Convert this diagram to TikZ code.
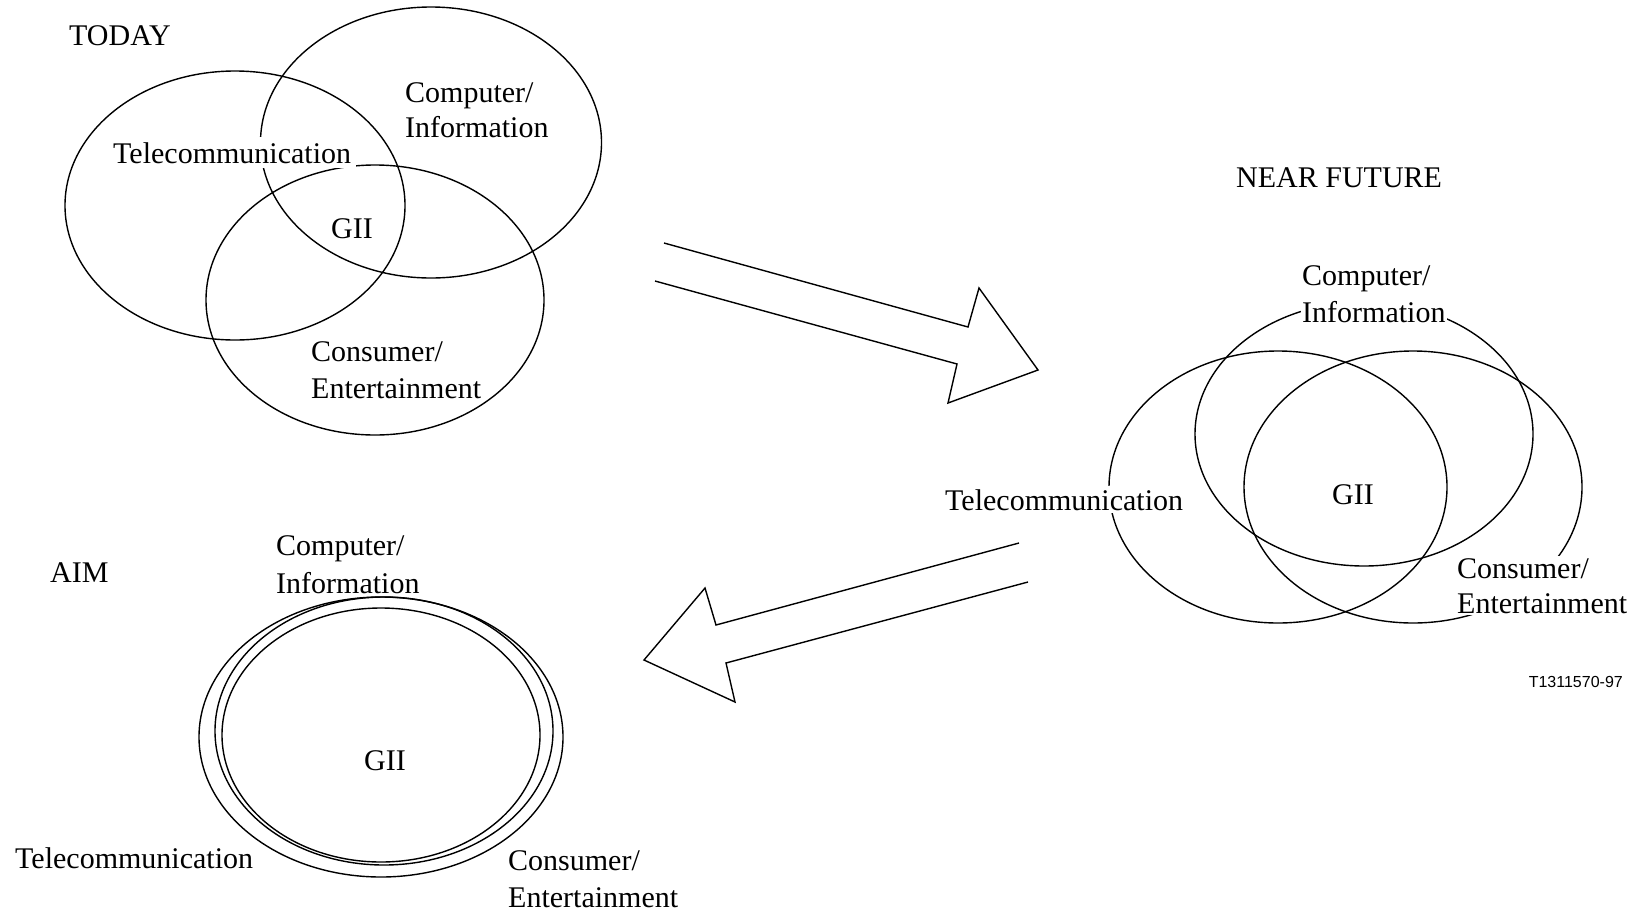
\documentclass[tikz,border=0pt]{standalone}
\usepackage{fontspec}
\newfontfamily\lblfont{Liberation Serif}
\newfontfamily\codefont{Liberation Sans}
\begin{document}
\begin{tikzpicture}[x=1pt,y=-1pt,
  lbl/.style={font=\lblfont\fontsize{30}{36}\selectfont, inner sep=0pt, anchor=base west},
  lblw/.style={font=\lblfont\fontsize{30}{36}\selectfont, inner sep=2pt, fill=white, anchor=base west},
  ell/.style={line width=1.4pt},
  bigarrow/.style={line width=1.4pt, line join=miter}]
\fill[white] (0,0) rectangle (1635,911);
\useasboundingbox (0,0) rectangle (1635,911);

% ---------- TODAY ----------
\draw[ell] (235,205.5) ellipse [x radius=170, y radius=134.5];
\draw[ell] (431,142.5) ellipse [x radius=170.5, y radius=135.5];
\draw[ell] (375,300) ellipse [x radius=169, y radius=135];
\node[lbl] (today) at (69,45) {TODAY};
\node[lblw, inner sep=5pt] (ttel) at (108,163) {Telecommunication};
\node[lbl] (tcomp1) at (405,102) {Computer/};
\node[lbl] (tcomp2) at (405,137) {Information};
\node[lbl] (tgii) at (331,238) {GII};
\node[lbl] (tcons1) at (311,361) {Consumer/};
\node[lbl] (tcons2) at (311,398) {Entertainment};

% ---------- NEAR FUTURE ----------
\draw[ell] (1364,434) ellipse [x radius=169, y radius=132];
\draw[ell] (1278,487) ellipse [x radius=169, y radius=136];
\draw[ell] (1413,487) ellipse [x radius=169, y radius=136];
\node[lbl] (near) at (1236,187) {NEAR FUTURE};
\node[lbl] (ncomp1) at (1302,285) {Computer/};
\node[lblw, inner sep=1.5pt] (ncomp2) at (1300.5,322) {Information};
\node[lblw, inner sep=3pt] (ntel) at (942,510) {Telecommunication};
\node[lbl] (ngii) at (1332,504) {GII};
\node[lblw, text depth=10pt] (ncons1) at (1455,578) {Consumer/};
\node[lblw, text height=24pt] (ncons2) at (1455,613) {Entertainment};
\node[font=\codefont\fontsize{16}{19}\selectfont, inner sep=0pt, anchor=base east] (code) at (1623,687) {T1311570-97};

% ---------- AIM ----------
\draw[ell] (381,737) ellipse [x radius=182, y radius=140];
\draw[ell] (384,731) ellipse [x radius=169, y radius=134];
\draw[ell] (381,735) ellipse [x radius=159, y radius=127];
\node[lbl] (aim) at (50,582) {AIM};
\node[lbl] (acomp1) at (276,555) {Computer/};
\node[lbl] (acomp2) at (276,593) {Information};
\node[lbl] (agii) at (364,770) {GII};
\node[lbl] (atel) at (15,868) {Telecommunication};
\node[lbl] (acons1) at (508,870) {Consumer/};
\node[lbl] (acons2) at (508,907) {Entertainment};

% ---------- ARROWS ----------
\draw[bigarrow] (664,243) -- (968,327) -- (979,288) -- (1038,370) -- (948,403) -- (957,364) -- (655,281);
\draw[bigarrow] (1019,543) -- (716,625) -- (705,588) -- (644,660) -- (735,702) -- (726,663) -- (1028,582);
\end{tikzpicture}
\end{document}
